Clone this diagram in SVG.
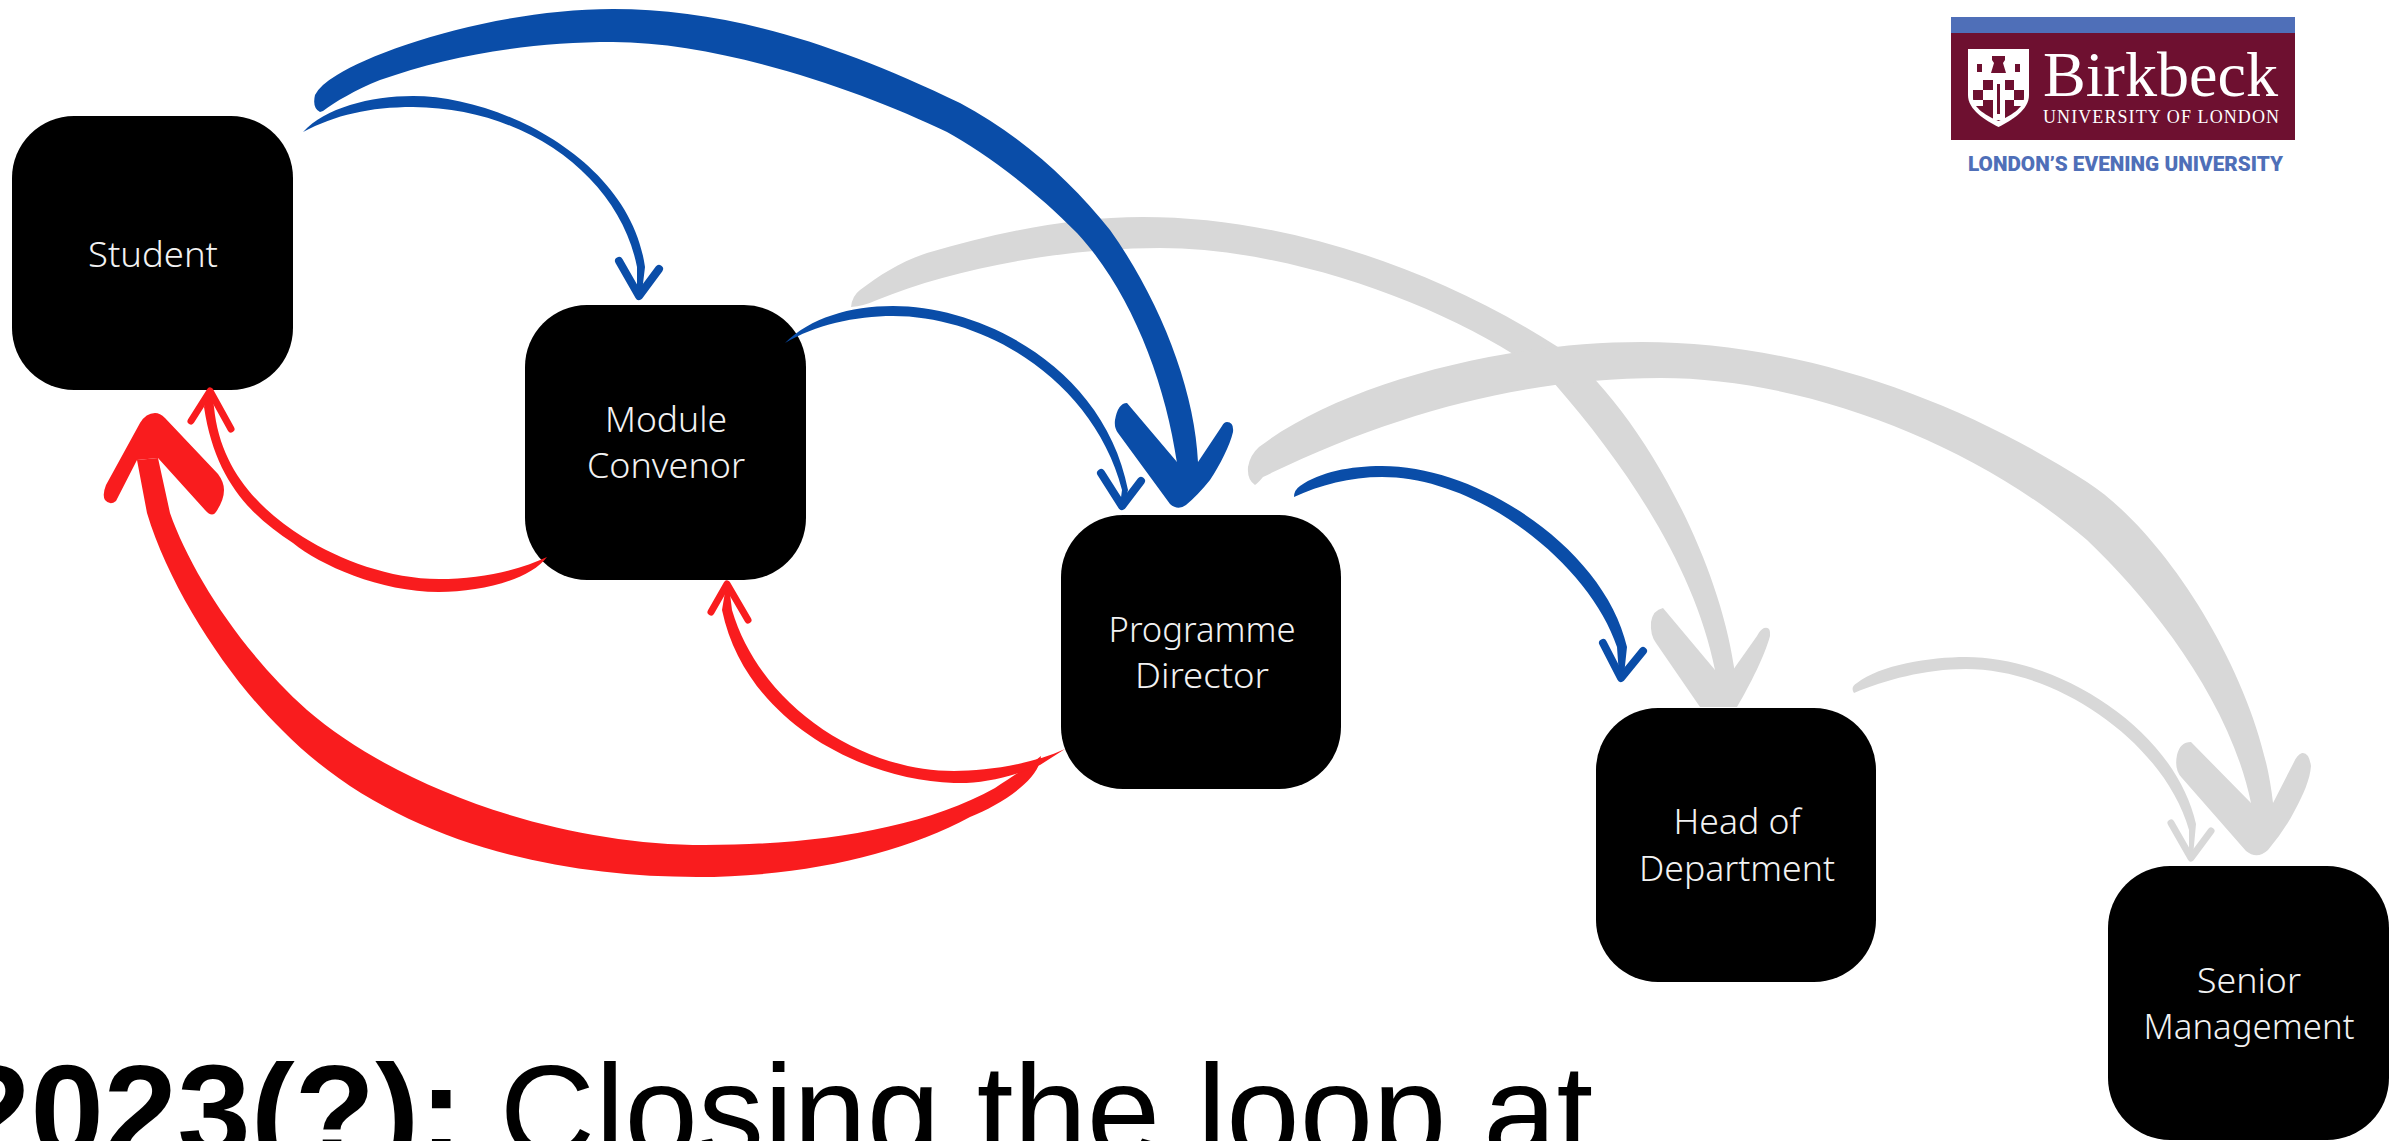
<svg xmlns="http://www.w3.org/2000/svg" width="2389" height="1141" viewBox="0 0 2389 1141">
<style>
.box{fill:#000}
.nt{fill:#f2f2f2;font-family:"Noto Sans","Open Sans",sans-serif;font-size:35px;font-weight:300;text-anchor:middle}
.b{fill:#0a4da8}.r{fill:#f91c1e}.g{fill:#d8d8d8}
.hb,.hr,.hg{fill:none;stroke-linecap:round;stroke-linejoin:round}
.hb{stroke:#0a4da8}.hr{stroke:#f91c1e}.hg{stroke:#d8d8d8}
.title{font-family:"Liberation Sans",Arial,sans-serif;font-size:132px;fill:#000}
</style>
<rect width="2389" height="1141" fill="#fff"/>
<g id="student"><rect class="box" x="12" y="116" width="281" height="274" rx="62"/><text class="nt" x="153" y="267" textLength="130" lengthAdjust="spacingAndGlyphs">Student</text></g>
<g id="module-convenor"><rect class="box" x="525" y="305" width="281" height="275" rx="62"/><text class="nt" x="666" y="432" textLength="122" lengthAdjust="spacingAndGlyphs">Module</text><text class="nt" x="666" y="478" textLength="158" lengthAdjust="spacingAndGlyphs">Convenor</text></g>
<g id="programme-director"><rect class="box" x="1061" y="515" width="280" height="274" rx="62"/><text class="nt" x="1202" y="642" textLength="187" lengthAdjust="spacingAndGlyphs">Programme</text><text class="nt" x="1202" y="688" textLength="134" lengthAdjust="spacingAndGlyphs">Director</text></g>
<g id="head-of-department"><rect class="box" x="1596" y="708" width="280" height="274" rx="62"/><text class="nt" x="1737" y="834" textLength="127" lengthAdjust="spacingAndGlyphs">Head of</text><text class="nt" x="1737" y="881" textLength="196" lengthAdjust="spacingAndGlyphs">Department</text></g>
<g id="senior-management"><rect class="box" x="2108" y="866" width="281" height="274" rx="62"/><text class="nt" x="2249" y="993" textLength="104" lengthAdjust="spacingAndGlyphs">Senior</text><text class="nt" x="2249" y="1039" textLength="211" lengthAdjust="spacingAndGlyphs">Management</text></g>
<g id="connectors">
<path class="g" d="M851,307Q852,296 860,290C880,275 900,262 927,253C1000,232 1070,217 1143,217C1280,217 1430,265 1558,347C1625,392 1715,540 1734,667L1734,685L1715,685L1715,670C1695,570 1630,470 1554,383C1470,315 1300,248 1160,248C1060,248 950,270 877,300Q864,306 851,307Z"/>
<path class="g" d="M1663,608Q1653,610 1651,622Q1650,635 1656,643L1700,707L1737,707C1750,685 1765,655 1770,636Q1771,626 1764,628Q1760,630 1757,636L1733,670L1715,670Z"/>
<path class="g" d="M1255,485Q1247,480 1248,467Q1250,455 1259,447C1340,385 1500,342 1642,342C1800,342 1960,400 2087,482C2165,532 2260,680 2273,803L2270,815L2251,815L2251,803C2230,700 2150,600 2087,540C1970,440 1800,378 1661,378C1530,378 1400,410 1263,477Q1258,483 1255,485Z"/>
<path class="g" d="M2191,742Q2180,742 2177,755Q2174,770 2182,778L2246,851Q2257,860 2268,850Q2285,830 2295,810C2303,795 2310,780 2311,766Q2309,752 2302,753Q2297,755 2294,762L2273,803L2251,803Z"/>
<path class="g" d="M1854,693Q1850,687 1857,683C1880,665 1930,657 1966,657C2060,657 2175,730 2196,824L2193,856L2189,856L2189,830C2165,745 2060,669 1966,669C1925,669 1885,680 1854,693Z"/>
<path class="hg" stroke-width="7" d="M2171,823L2191,858L2211,831"/>
<path class="b" d="M320,112Q312,108 315,95Q320,85 337,75C380,48 500,9 613,9C720,9 830,40 960,103C1020,135 1070,180 1110,230C1160,300 1195,390 1198,462L1198,475L1177,475L1177,463C1165,380 1130,290 1077,233C1030,185 980,150 947,132C860,90 720,42 613,42C530,42 450,55 380,80C355,90 335,102 323,111Z"/>
<path class="b" d="M1127,403Q1118,403 1115,420Q1114,428 1118,433L1170,504Q1178,511 1186,505Q1198,495 1210,480C1220,465 1230,445 1233,432Q1234,422 1227,422Q1224,422 1222,426L1198,462L1177,462Z"/>
<path class="b" d="M303,132C325,108 370,96 413,96C500,96 630,160 645,267L642,292L637,292L637,267C620,180 530,108 413,107C370,107 335,115 303,132Z"/>
<path class="hb" stroke-width="8" d="M619,261L639,296L659,269"/>
<path class="b" d="M785,343C810,318 850,306 893,306C985,306 1105,370 1128,490L1124,505L1120,505L1122,490C1095,385 990,316 893,316C855,316 815,325 785,343Z"/>
<path class="hb" stroke-width="8" d="M1101,473L1122,506L1141,481"/>
<path class="b" d="M1294,497Q1294,490 1300,486C1320,472 1350,466 1382,466C1480,466 1605,550 1627,647L1624,675L1619,675L1617,647C1590,565 1480,477 1382,477C1350,477 1320,485 1294,497Z"/>
<path class="hb" stroke-width="8" d="M1603,643L1621,678L1643,651"/>
<path class="r" d="M547,557C530,580 480,592 439,592C380,592 320,565 293,543C250,515 215,480 204,407L209,392L212,392L214,407C220,470 260,510 303,537C340,560 390,579 439,579C480,579 520,570 547,557Z"/>
<path class="hr" stroke-width="7" d="M191,421L210,391L231,429"/>
<path class="r" d="M1041,756C1040,780 1000,805 970,817C900,855 800,877 697,877C550,877 390,840 282,730C230,680 170,590 147,513L137,460L158,458L170,513C190,570 240,650 307,710C400,790 560,845 705,845C810,845 920,830 995,788C1015,775 1030,765 1041,756Z"/>
<path class="r" d="M155,413Q146,413 140,423L106,485Q102,495 105,500Q110,506 116,501L137,460L158,458L205,510Q212,518 216,512Q224,500 224,490Q224,482 218,474L165,418Q160,413 155,413Z"/>
<path class="r" d="M1065,749L1040,765C1010,778 980,784 954,783C860,780 745,720 722,610L726,586L729,586L732,610C760,705 860,771 954,771C985,771 1030,765 1065,749Z"/>
<path class="hr" stroke-width="7" d="M711,612L727,584L748,620"/>
</g>
<g id="logo">
<rect x="1951" y="17" width="344" height="17" fill="#4f6fb8"/>
<rect x="1951" y="33" width="344" height="107" fill="#6e1030"/>
<path d="M1968,49H2029V95C2029,110 2012,120 1998.500,127C1985,120 1968,110 1968,95Z" fill="#fff"/>
<path d="M1973,80H2024V98C2024,108 2010,116 1998.500,121C1987,116 1973,108 1973,98Z" fill="#6e1030"/>
<path d="M1973,80h10v10h-10zM1993,80h12v40h-12zM2014,80h10v10h-10zM1983,90h10v10h-10zM2005,90h9v10h-9zM1973,100h10v6h-10zM2014,100h10v6h-10z" fill="#fff"/>
<path d="M1997,84h3v30h-3z" fill="#6e1030"/>
<path d="M1992,56h13v4l-2,3 3,10h-15l3,-10 -2,-3zM1977,64h5v8h-5zM2015,64h5v8h-5z" fill="#6e1030"/>
<text x="2043" y="96" font-family="Liberation Serif,serif" font-size="64" fill="#fff" textLength="235" lengthAdjust="spacingAndGlyphs">Birkbeck</text>
<text x="2043" y="123" font-family="Liberation Serif,serif" font-size="18" fill="#fff" textLength="236">UNIVERSITY OF LONDON</text>
<text x="1968" y="171" font-family="Roboto,Liberation Sans,sans-serif" font-weight="900" font-size="21" fill="#4f6fb8" textLength="315" lengthAdjust="spacingAndGlyphs">LONDON’S EVENING UNIVERSITY</text>
</g>
<text class="title" x="-43" y="1157"><tspan font-weight="700">2023(?):</tspan> Closing the loop at</text>
</svg>
